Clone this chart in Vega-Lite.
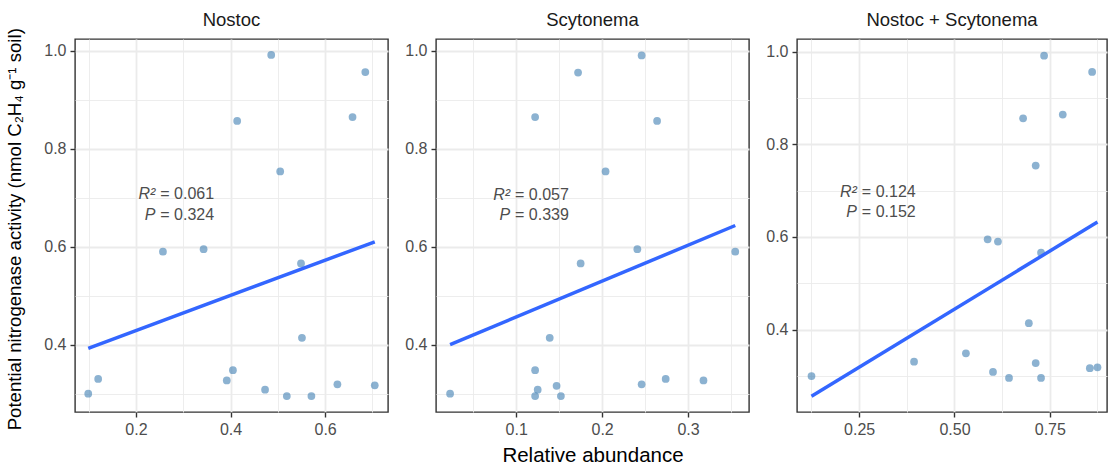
{
  "$schema": "https://vega.github.io/schema/vega-lite/v6.json",
  "background": "white",
  "padding": {"left": 6, "top": 10, "right": 0, "bottom": 0},
  "title": {
    "text": "Potential nitrogenase activity (nmol C₂H₄ g⁻¹ soil)",
    "orient": "left",
    "anchor": "middle",
    "frame": "bounds",
    "fontSize": 18.6,
    "color": "#000000",
    "offset": 18,
    "dx": 9
  },
  "config": {
    "font": "Liberation Sans",
    "view": {"stroke": "#333333", "strokeWidth": 1.4},
    "axis": {
      "domain": false,
      "grid": true,
      "gridColor": "#EBEBEB",
      "tickColor": "#333333",
      "tickSize": 5,
      "tickWidth": 1.4,
      "labelColor": "#4D4D4D",
      "labelFontSize": 16,
      "labelFont": "Liberation Sans",
      "labelPadding": 4,
      "titleFont": "Liberation Sans",
      "titleFontSize": 20.5,
      "titleFontWeight": "normal",
      "titleColor": "#000000"
    },
    "concat": {"spacing": 15},
    "title": {
      "font": "Liberation Sans",
      "fontSize": 18.5,
      "fontWeight": "normal",
      "color": "#1A1A1A",
      "anchor": "middle",
      "frame": "group",
      "offset": 9.5
    }
  },
  "datasets": {
    "points": [
      {"panel": "Nostoc", "abundance": 0.099, "activity": 0.300},
      {"panel": "Nostoc", "abundance": 0.120, "activity": 0.330},
      {"panel": "Nostoc", "abundance": 0.257, "activity": 0.590},
      {"panel": "Nostoc", "abundance": 0.343, "activity": 0.595},
      {"panel": "Nostoc", "abundance": 0.414, "activity": 0.857},
      {"panel": "Nostoc", "abundance": 0.486, "activity": 0.992},
      {"panel": "Nostoc", "abundance": 0.505, "activity": 0.754},
      {"panel": "Nostoc", "abundance": 0.685, "activity": 0.957},
      {"panel": "Nostoc", "abundance": 0.658, "activity": 0.865},
      {"panel": "Nostoc", "abundance": 0.549, "activity": 0.566},
      {"panel": "Nostoc", "abundance": 0.551, "activity": 0.414},
      {"panel": "Nostoc", "abundance": 0.405, "activity": 0.348},
      {"panel": "Nostoc", "abundance": 0.392, "activity": 0.327},
      {"panel": "Nostoc", "abundance": 0.473, "activity": 0.308},
      {"panel": "Nostoc", "abundance": 0.519, "activity": 0.295},
      {"panel": "Nostoc", "abundance": 0.571, "activity": 0.295},
      {"panel": "Nostoc", "abundance": 0.626, "activity": 0.319},
      {"panel": "Nostoc", "abundance": 0.705, "activity": 0.317},
      {"panel": "Scytonema", "abundance": 0.023, "activity": 0.300},
      {"panel": "Scytonema", "abundance": 0.122, "activity": 0.865},
      {"panel": "Scytonema", "abundance": 0.172, "activity": 0.956},
      {"panel": "Scytonema", "abundance": 0.246, "activity": 0.991},
      {"panel": "Scytonema", "abundance": 0.264, "activity": 0.857},
      {"panel": "Scytonema", "abundance": 0.204, "activity": 0.754},
      {"panel": "Scytonema", "abundance": 0.241, "activity": 0.595},
      {"panel": "Scytonema", "abundance": 0.175, "activity": 0.566},
      {"panel": "Scytonema", "abundance": 0.355, "activity": 0.590},
      {"panel": "Scytonema", "abundance": 0.139, "activity": 0.414},
      {"panel": "Scytonema", "abundance": 0.122, "activity": 0.348},
      {"panel": "Scytonema", "abundance": 0.125, "activity": 0.308},
      {"panel": "Scytonema", "abundance": 0.122, "activity": 0.295},
      {"panel": "Scytonema", "abundance": 0.147, "activity": 0.316},
      {"panel": "Scytonema", "abundance": 0.152, "activity": 0.295},
      {"panel": "Scytonema", "abundance": 0.246, "activity": 0.319},
      {"panel": "Scytonema", "abundance": 0.274, "activity": 0.330},
      {"panel": "Scytonema", "abundance": 0.318, "activity": 0.327},
      {"panel": "Nostoc + Scytonema", "abundance": 0.125, "activity": 0.300},
      {"panel": "Nostoc + Scytonema", "abundance": 0.394, "activity": 0.331},
      {"panel": "Nostoc + Scytonema", "abundance": 0.530, "activity": 0.349},
      {"panel": "Nostoc + Scytonema", "abundance": 0.601, "activity": 0.309},
      {"panel": "Nostoc + Scytonema", "abundance": 0.643, "activity": 0.296},
      {"panel": "Nostoc + Scytonema", "abundance": 0.727, "activity": 0.296},
      {"panel": "Nostoc + Scytonema", "abundance": 0.713, "activity": 0.328},
      {"panel": "Nostoc + Scytonema", "abundance": 0.855, "activity": 0.317},
      {"panel": "Nostoc + Scytonema", "abundance": 0.875, "activity": 0.319},
      {"panel": "Nostoc + Scytonema", "abundance": 0.695, "activity": 0.414},
      {"panel": "Nostoc + Scytonema", "abundance": 0.587, "activity": 0.595},
      {"panel": "Nostoc + Scytonema", "abundance": 0.614, "activity": 0.590},
      {"panel": "Nostoc + Scytonema", "abundance": 0.727, "activity": 0.566},
      {"panel": "Nostoc + Scytonema", "abundance": 0.713, "activity": 0.754},
      {"panel": "Nostoc + Scytonema", "abundance": 0.680, "activity": 0.856},
      {"panel": "Nostoc + Scytonema", "abundance": 0.784, "activity": 0.864},
      {"panel": "Nostoc + Scytonema", "abundance": 0.735, "activity": 0.991},
      {"panel": "Nostoc + Scytonema", "abundance": 0.861, "activity": 0.956}
    ],
    "labels": [
      {"panel": "Nostoc", "abundance": 0.243, "activity": 0.707, "sym": "R²", "rest": "= 0.061"},
      {"panel": "Nostoc", "abundance": 0.243, "activity": 0.6645, "sym": "P", "rest": "= 0.324"},
      {"panel": "Scytonema", "abundance": 0.094, "activity": 0.7065, "sym": "R²", "rest": "= 0.057"},
      {"panel": "Scytonema", "abundance": 0.094, "activity": 0.664, "sym": "P", "rest": "= 0.339"},
      {"panel": "Nostoc + Scytonema", "abundance": 0.2466, "activity": 0.6967, "sym": "R²", "rest": "= 0.124"},
      {"panel": "Nostoc + Scytonema", "abundance": 0.2466, "activity": 0.6529, "sym": "P", "rest": "= 0.152"}
    ]
  },
  "hconcat": [
    {
      "width": 313,
      "height": 373,
      "title": {"text": "Nostoc"},
      "encoding": {
        "x": {
          "field": "abundance", "type": "quantitative",
          "scale": {"domain": [0.071, 0.733], "nice": false, "zero": false},
          "axis": {
            "title": null,
            "values": [0.1, 0.2, 0.3, 0.4, 0.5, 0.6, 0.7],
            "format": ".1f",
            "labelExpr": "indexof([0.2, 0.4, 0.6], datum.value) >= 0 ? datum.label : ''",
            "tickOpacity": {"condition": {"test": "indexof([0.2, 0.4, 0.6], datum.value) >= 0", "value": 1}, "value": 0},
            "gridWidth": {"condition": {"test": "indexof([0.2, 0.4, 0.6], datum.value) >= 0", "value": 1.8}, "value": 0.9}
          }
        },
        "y": {
          "field": "activity", "type": "quantitative",
          "scale": {"domain": [0.2625, 1.0245], "nice": false, "zero": false},
          "axis": {
            "title": null,
            "values": [0.3, 0.4, 0.5, 0.6, 0.7, 0.8, 0.9, 1.0],
            "format": ".1f",
            "labelExpr": "indexof([0.4, 0.6, 0.8, 1], datum.value) >= 0 ? datum.label : ''",
            "tickOpacity": {"condition": {"test": "indexof([0.4, 0.6, 0.8, 1], datum.value) >= 0", "value": 1}, "value": 0},
            "gridWidth": {"condition": {"test": "indexof([0.4, 0.6, 0.8, 1], datum.value) >= 0", "value": 1.8}, "value": 0.9}
          }
        }
      },
      "layer": [
        {
          "data": {"name": "points"},
          "transform": [{"filter": "datum.panel === 'Nostoc'"}],
          "mark": {"type": "circle", "size": 60, "color": "#4682B4", "opacity": 0.62}
        },
        {
          "data": {"name": "points"},
          "transform": [{"filter": "datum.panel === 'Nostoc'"}, {"regression": "activity", "on": "abundance"}],
          "mark": {"type": "line", "color": "#3366FF", "strokeWidth": 3.5}
        },
        {
          "data": {"name": "labels"},
          "transform": [{"filter": "datum.panel === 'Nostoc'"}],
          "mark": {"type": "text", "align": "right", "baseline": "middle", "fontStyle": "italic", "fontSize": 16, "color": "#4D4D4D", "dx": -1},
          "encoding": {"text": {"field": "sym"}}
        },
        {
          "data": {"name": "labels"},
          "transform": [{"filter": "datum.panel === 'Nostoc'"}],
          "mark": {"type": "text", "align": "left", "baseline": "middle", "fontSize": 16, "color": "#4D4D4D", "dx": 4},
          "encoding": {"text": {"field": "rest"}}
        }
      ]
    },
    {
      "width": 313,
      "height": 373,
      "title": {"text": "Scytonema"},
      "encoding": {
        "x": {
          "field": "abundance", "type": "quantitative",
          "scale": {"domain": [0.0066, 0.371], "nice": false, "zero": false},
          "axis": {
            "title": "Relative abundance",
            "titlePadding": 8,
            "values": [0.05, 0.1, 0.15, 0.2, 0.25, 0.3, 0.35],
            "format": ".1f",
            "labelExpr": "indexof([0.1, 0.2, 0.3], datum.value) >= 0 ? datum.label : ''",
            "tickOpacity": {"condition": {"test": "indexof([0.1, 0.2, 0.3], datum.value) >= 0", "value": 1}, "value": 0},
            "gridWidth": {"condition": {"test": "indexof([0.1, 0.2, 0.3], datum.value) >= 0", "value": 1.8}, "value": 0.9}
          }
        },
        "y": {
          "field": "activity", "type": "quantitative",
          "scale": {"domain": [0.2625, 1.0245], "nice": false, "zero": false},
          "axis": {
            "title": null,
            "values": [0.3, 0.4, 0.5, 0.6, 0.7, 0.8, 0.9, 1.0],
            "format": ".1f",
            "labelExpr": "indexof([0.4, 0.6, 0.8, 1], datum.value) >= 0 ? datum.label : ''",
            "tickOpacity": {"condition": {"test": "indexof([0.4, 0.6, 0.8, 1], datum.value) >= 0", "value": 1}, "value": 0},
            "gridWidth": {"condition": {"test": "indexof([0.4, 0.6, 0.8, 1], datum.value) >= 0", "value": 1.8}, "value": 0.9}
          }
        }
      },
      "layer": [
        {
          "data": {"name": "points"},
          "transform": [{"filter": "datum.panel === 'Scytonema'"}],
          "mark": {"type": "circle", "size": 60, "color": "#4682B4", "opacity": 0.62}
        },
        {
          "data": {"name": "points"},
          "transform": [{"filter": "datum.panel === 'Scytonema'"}, {"regression": "activity", "on": "abundance"}],
          "mark": {"type": "line", "color": "#3366FF", "strokeWidth": 3.5}
        },
        {
          "data": {"name": "labels"},
          "transform": [{"filter": "datum.panel === 'Scytonema'"}],
          "mark": {"type": "text", "align": "right", "baseline": "middle", "fontStyle": "italic", "fontSize": 16, "color": "#4D4D4D", "dx": -1},
          "encoding": {"text": {"field": "sym"}}
        },
        {
          "data": {"name": "labels"},
          "transform": [{"filter": "datum.panel === 'Scytonema'"}],
          "mark": {"type": "text", "align": "left", "baseline": "middle", "fontSize": 16, "color": "#4D4D4D", "dx": 4},
          "encoding": {"text": {"field": "rest"}}
        }
      ]
    },
    {
      "width": 310,
      "height": 373,
      "title": {"text": "Nostoc + Scytonema"},
      "encoding": {
        "x": {
          "field": "abundance", "type": "quantitative",
          "scale": {"domain": [0.087, 0.9], "nice": false, "zero": false},
          "axis": {
            "title": null,
            "values": [0.125, 0.25, 0.375, 0.5, 0.625, 0.75, 0.875],
            "format": ".2f",
            "labelExpr": "indexof([0.25, 0.5, 0.75], datum.value) >= 0 ? datum.label : ''",
            "tickOpacity": {"condition": {"test": "indexof([0.25, 0.5, 0.75], datum.value) >= 0", "value": 1}, "value": 0},
            "gridWidth": {"condition": {"test": "indexof([0.25, 0.5, 0.75], datum.value) >= 0", "value": 1.8}, "value": 0.9}
          }
        },
        "y": {
          "field": "activity", "type": "quantitative",
          "scale": {"domain": [0.2225, 1.027], "nice": false, "zero": false},
          "axis": {
            "title": null,
            "values": [0.3, 0.4, 0.5, 0.6, 0.7, 0.8, 0.9, 1.0],
            "format": ".1f",
            "labelExpr": "indexof([0.4, 0.6, 0.8, 1], datum.value) >= 0 ? datum.label : ''",
            "tickOpacity": {"condition": {"test": "indexof([0.4, 0.6, 0.8, 1], datum.value) >= 0", "value": 1}, "value": 0},
            "gridWidth": {"condition": {"test": "indexof([0.4, 0.6, 0.8, 1], datum.value) >= 0", "value": 1.8}, "value": 0.9}
          }
        }
      },
      "layer": [
        {
          "data": {"name": "points"},
          "transform": [{"filter": "datum.panel === 'Nostoc + Scytonema'"}],
          "mark": {"type": "circle", "size": 60, "color": "#4682B4", "opacity": 0.62}
        },
        {
          "data": {"name": "points"},
          "transform": [{"filter": "datum.panel === 'Nostoc + Scytonema'"}, {"regression": "activity", "on": "abundance"}],
          "mark": {"type": "line", "color": "#3366FF", "strokeWidth": 3.5}
        },
        {
          "data": {"name": "labels"},
          "transform": [{"filter": "datum.panel === 'Nostoc + Scytonema'"}],
          "mark": {"type": "text", "align": "right", "baseline": "middle", "fontStyle": "italic", "fontSize": 16, "color": "#4D4D4D", "dx": -1},
          "encoding": {"text": {"field": "sym"}}
        },
        {
          "data": {"name": "labels"},
          "transform": [{"filter": "datum.panel === 'Nostoc + Scytonema'"}],
          "mark": {"type": "text", "align": "left", "baseline": "middle", "fontSize": 16, "color": "#4D4D4D", "dx": 4},
          "encoding": {"text": {"field": "rest"}}
        }
      ]
    }
  ]
}
